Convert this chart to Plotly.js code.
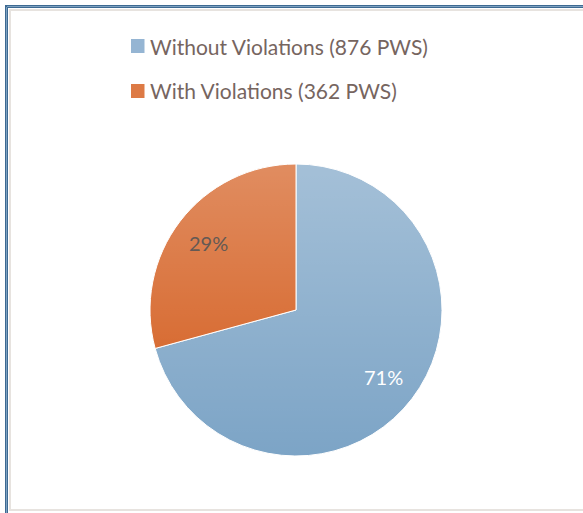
<!DOCTYPE html>
<html>
<head>
<meta charset="utf-8">
<script src="https://cdn.plot.ly/plotly-3.0.1.min.js"></script>
<style>html,body{margin:0;padding:0;background:#fff;}#chart{width:583px;height:513px;}</style>
</head>
<body>
<div id="chart"></div>
<script>
const categories = ["Without Violations", "With Violations"];
const pwsCounts = [876, 362];
const legendLabels = ["Without Violations (876 PWS)", "With Violations (362 PWS)"];
const sliceColors = ["#7ca4c6", "#d35a1a"];
const legendColors = ["#95b5d3", "#dd7a45"];
const labelColors = ["#ffffff", "#645954"];

const W = 583, H = 513;
const X = px => px / W;
const Y = py => 1 - py / H;

const gradSvg = '<svg xmlns="http://www.w3.org/2000/svg" width="10" height="100" preserveAspectRatio="none">' +
  '<defs><linearGradient id="g" x1="0" y1="0" x2="0" y2="1">' +
  '<stop offset="0" stop-color="#fff" stop-opacity="0.31"/>' +
  '<stop offset="1" stop-color="#fff" stop-opacity="0"/></linearGradient></defs>' +
  '<rect width="10" height="100" fill="url(#g)"/></svg>';
const gradUri = 'data:image/svg+xml;base64,' + btoa(gradSvg);

// pie geometry (pixels)
const cx = 296, cy = 310, rad = 146, labelR = 110;

const trace = {
  type: 'pie',
  labels: categories,
  values: pwsCounts,
  sort: false,
  direction: 'clockwise',
  rotation: 0,
  marker: {colors: sliceColors, line: {color: '#ffffff', width: 1}},
  textinfo: 'none',
  hoverinfo: 'label+value+percent',
  showlegend: false,
  domain: {x: [X(cx - rad), X(cx + rad)], y: [Y(cy + rad + 1), Y(cy - rad - 1)]}
};

const shapes = [
  // outer blue double frame
  {type: 'line', xref: 'paper', yref: 'paper', x0: X(6.5), x1: X(6.5), y0: Y(5), y1: Y(520), line: {color: '#3d6a92', width: 3}},
  {type: 'line', xref: 'paper', yref: 'paper', x0: X(5), x1: X(590), y0: Y(6.5), y1: Y(6.5), line: {color: '#3d6a92', width: 3}},
  {type: 'line', xref: 'paper', yref: 'paper', x0: X(6.5), x1: X(6.5), y0: Y(7), y1: Y(520), line: {color: '#8fb0cc', width: 0.8}},
  {type: 'line', xref: 'paper', yref: 'paper', x0: X(7), x1: X(590), y0: Y(6.5), y1: Y(6.5), line: {color: '#8fb0cc', width: 0.8}},
  // inner grey frame
  {type: 'line', xref: 'paper', yref: 'paper', x0: X(10), x1: X(10), y0: Y(9), y1: Y(511), line: {color: '#e7e3df', width: 2}},
  {type: 'line', xref: 'paper', yref: 'paper', x0: X(9), x1: X(590), y0: Y(10), y1: Y(10), line: {color: '#e7e3df', width: 2}},
  {type: 'line', xref: 'paper', yref: 'paper', x0: X(9), x1: X(590), y0: Y(510), y1: Y(510), line: {color: '#e7e3df', width: 2}}
];

const annotations = [];

// legend (drawn from the label/colour arrays)
const legendRows = [46, 91];
legendLabels.forEach((txt, i) => {
  shapes.push({type: 'rect', xref: 'paper', yref: 'paper',
    x0: X(131), x1: X(144.5), y0: Y(legendRows[i] + 7), y1: Y(legendRows[i] - 7),
    fillcolor: legendColors[i], line: {width: 0}});
  annotations.push({xref: 'paper', yref: 'paper', x: X(148), y: Y(legendRows[i]),
    xanchor: 'left', yanchor: 'middle', showarrow: false, text: txt,
    font: {family: 'Lato, sans-serif', size: 21, color: '#76655f'}});
});

// percentage labels placed at the mid-angle of each slice
const total = pwsCounts.reduce((a, b) => a + b, 0);
let cum = 0;
pwsCounts.forEach((v, i) => {
  const f = (cum + v / 2) / total;
  cum += v;
  const th = 2 * Math.PI * f;
  const px = cx + labelR * Math.sin(th);
  const py = cy - labelR * Math.cos(th);
  annotations.push({xref: 'paper', yref: 'paper', x: X(px), y: Y(py),
    xanchor: 'center', yanchor: 'middle', showarrow: false,
    text: Math.round(100 * v / total) + '%',
    font: {family: 'Lato, sans-serif', size: 20, color: labelColors[i]}});
});

const layout = {
  width: W, height: H,
  margin: {l: 0, r: 0, t: 0, b: 0},
  paper_bgcolor: '#ffffff',
  showlegend: false,
  shapes: shapes,
  annotations: annotations,
  images: [{source: gradUri, xref: 'paper', yref: 'paper', x: X(148), y: Y(162),
    sizex: X(444) - X(148), sizey: Y(162) - Y(458), xanchor: 'left', yanchor: 'top',
    sizing: 'stretch', layer: 'above'}]
};

Plotly.newPlot('chart', [trace], layout, {displayModeBar: false, staticPlot: true});
</script>
</body>
</html>
